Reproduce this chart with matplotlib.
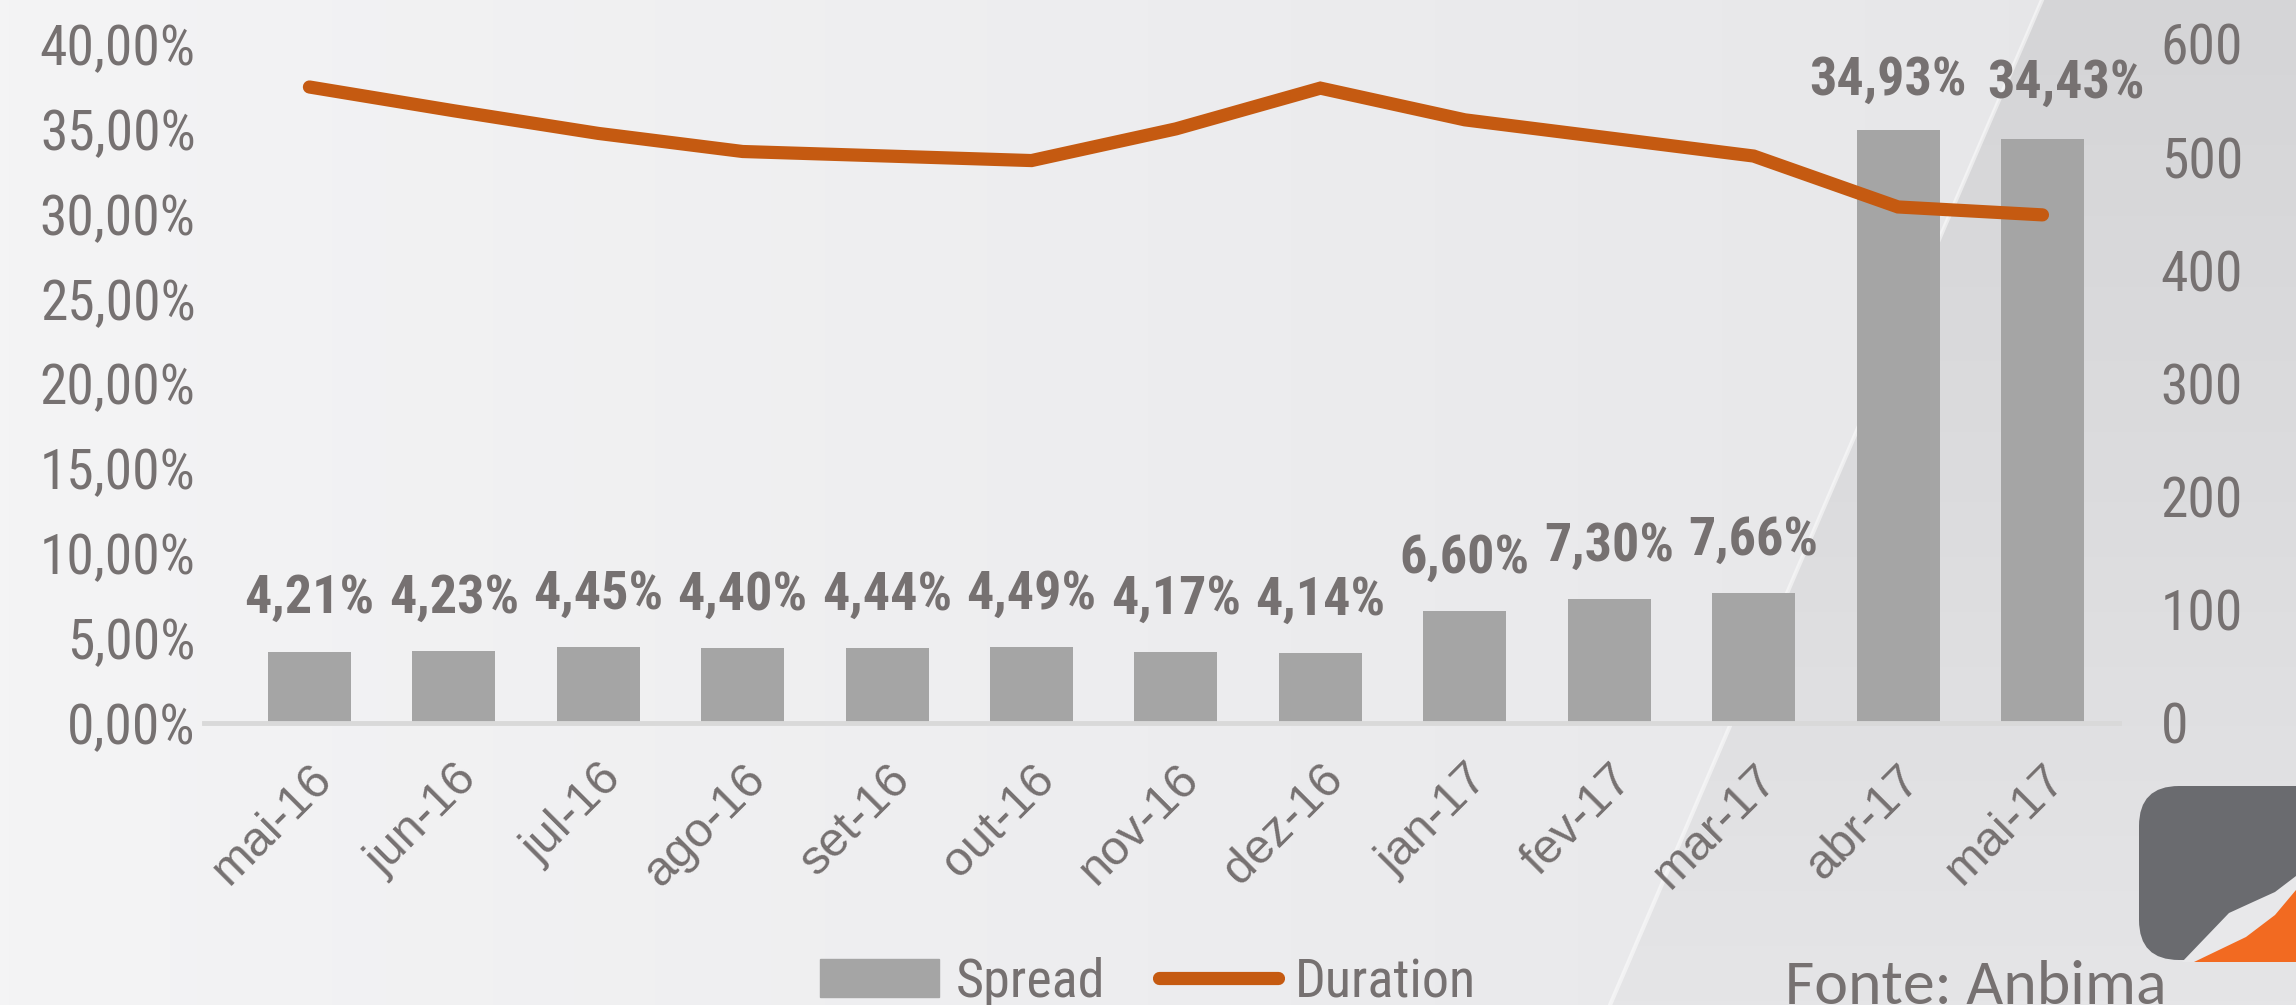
import numpy as np
import matplotlib
matplotlib.use("Agg")
import matplotlib.pyplot as plt
from matplotlib import font_manager as fm
from matplotlib.colors import LinearSegmentedColormap
from matplotlib.patches import Polygon, FancyBboxPatch, Patch
from matplotlib.lines import Line2D

# fonte estreita parecida com Arial Narrow (a primeira que existir)
fontes = {}
for f in fm.fontManager.ttflist:
    fontes.setdefault(f.name, set()).add(f.weight)
narrow = 'Liberation Sans'
for nome in ['Liberation Sans Narrow', 'Arial Narrow', 'Roboto Condensed', 'Archivo Narrow',
             'PT Sans Narrow', 'Sofia Sans Condensed', 'Barlow Semi Condensed']:
    if nome in fontes:
        narrow = nome
        break
fonte_rodape = 'Carlito' if 'Carlito' in fontes else 'Lato'
plt.rcParams['font.family'] = [narrow, 'Liberation Sans', 'DejaVu Sans']

# dados
meses = ['mai-16', 'jun-16', 'jul-16', 'ago-16', 'set-16', 'out-16', 'nov-16',
         'dez-16', 'jan-17', 'fev-17', 'mar-17', 'abr-17', 'mai-17']
spread = [4.21, 4.23, 4.45, 4.40, 4.44, 4.49, 4.17, 4.14, 6.60, 7.30, 7.66, 34.93, 34.43]
duration = [562, 541, 521, 505, 501, 497, 525, 561, 533, 517, 501, 456, 449]
yticks_esq = [0, 5, 10, 15, 20, 25, 30, 35, 40]
yticks_dir = [0, 100, 200, 300, 400, 500, 600]

cinza_txt = '#767171'
cor_barra = '#a5a5a5'
cor_linha = '#c55a11'

W, H = 2296, 1005
fig = plt.figure(figsize=(W / 100, H / 100), dpi=100)

# fundo com degrade
bg = fig.add_axes([0, 0, 1, 1], zorder=-10)
bg.set_xlim(0, W)
bg.set_ylim(H, 0)
bg.axis('off')
cm1 = LinearSegmentedColormap.from_list('bg1', ['#f4f4f5', '#ededef', '#e5e5e7'])
bg.imshow(np.linspace(0, 1, 256)[None, :], cmap=cm1, extent=[0, W, H, 0], aspect='auto')
diag = Polygon([(2042, 0), (W, 0), (W, H), (1610, H)], closed=True,
               facecolor='none', edgecolor='none')
bg.add_patch(diag)
cm2 = LinearSegmentedColormap.from_list('bg2', ['#d5d5d7', '#dcdcde', '#e5e5e7'])
im2 = bg.imshow(np.linspace(0, 1, 256)[:, None], cmap=cm2, extent=[1600, W, H, 0], aspect='auto')
im2.set_clip_path(diag)
bg.plot([2042, 1610], [0, H], color='white', alpha=0.5, lw=3)

# logo
bg.add_patch(FancyBboxPatch((2165, 812), 200, 122, boxstyle='round,pad=26,rounding_size=40',
                            facecolor='#6a6b6f', edgecolor='none'))
bg.add_patch(Polygon([(2182, 962), (2229, 913), (2253, 902), (2275, 892), (2296, 876), (2296, 962)],
                     closed=True, facecolor='#e8e8ea', edgecolor='none'))
bg.add_patch(Polygon([(2194, 962), (2246, 937), (2275, 915), (2296, 890), (2296, 962)],
                     closed=True, facecolor='#f26a21', edgecolor='none'))
bg.text(1785, 960, 'Fonte: Anbima', family=fonte_rodape, fontsize=46 if fonte_rodape == 'Carlito' else 44,
        color=cinza_txt, va='top', ha='left')

# grafico principal
ax = fig.add_axes([204 / W, 1 - 723 / H, (2119 - 204) / W, (723 - 44) / H])
ax.patch.set_alpha(0)
x = np.arange(len(meses))
ax.bar(x, spread, width=0.575, color=cor_barra, zorder=2)
ax.set_xlim(-0.73, 12.53)
ax.set_ylim(0, 40)
ax.set_yticks(yticks_esq)
ax.set_yticklabels([f"{v:.2f}%".replace('.', ',') for v in yticks_esq])
ax.tick_params(axis='y', length=0, pad=6, labelsize=40, labelcolor=cinza_txt)
ax.set_xticks(x)
ax.set_xticklabels(meses, rotation=45, ha='right', rotation_mode='anchor',
                   family='Liberation Sans', fontsize=35, color=cinza_txt)
ax.tick_params(axis='x', length=0, pad=24)
for s in ['top', 'left', 'right']:
    ax.spines[s].set_visible(False)
ax.spines['bottom'].set_color('#d9d9d9')
ax.spines['bottom'].set_linewidth(3.5)

# rotulos; os dois ultimos afastados para nao se sobreporem
desloc = [(0, 38)] * 11 + [(-7, 36), (17, 40)]
for i, v in enumerate(spread):
    ax.annotate(f"{v:.2f}%".replace('.', ','), (i, v), xytext=desloc[i], textcoords='offset points',
                ha='center', va='center', fontsize=39, fontweight='bold', color=cinza_txt)

ax2 = ax.twinx()
ax2.plot(x, duration, color=cor_linha, lw=9.5, solid_capstyle='round', solid_joinstyle='miter')
ax2.set_ylim(0, 600)
ax2.set_yticks(yticks_dir)
ax2.tick_params(axis='y', length=0, pad=30, labelsize=40, labelcolor=cinza_txt)
for s in ax2.spines.values():
    s.set_visible(False)

handles = [Patch(color=cor_barra, label='Spread'),
           Line2D([0], [0], color=cor_linha, lw=9.5, solid_capstyle='round', label='Duration')]
leg = fig.legend(handles=handles, loc='center', bbox_to_anchor=(0.5, 0.022), ncol=2,
                 frameon=False, fontsize=39, handlelength=2.2, handletextpad=0.3,
                 columnspacing=1.0)
for t in leg.get_texts():
    t.set_color(cinza_txt)

fig.savefig('out.png', dpi=100)
